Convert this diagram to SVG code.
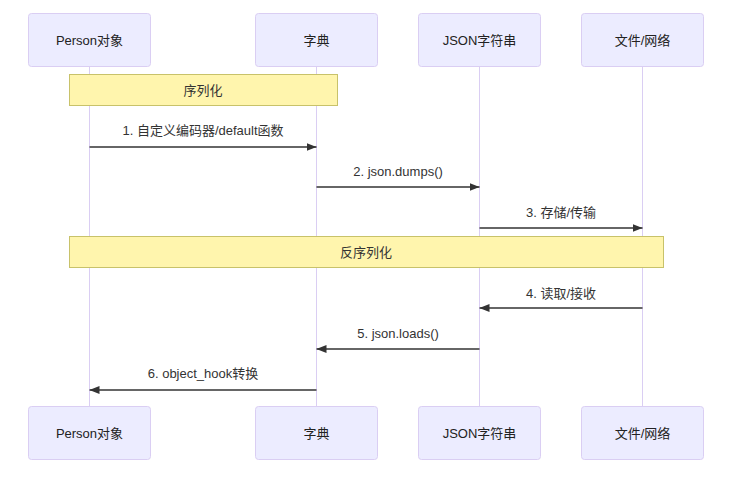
<svg xmlns="http://www.w3.org/2000/svg" width="737" height="486" viewBox="0 0 737 486">
<defs>
<style>
.actor rect{fill:#ECECFF;stroke:#DACEF3;stroke-width:1}
.actor text{font-family:"Liberation Sans","Noto Sans CJK SC",sans-serif;font-size:13px;fill:#222;text-anchor:middle;dominant-baseline:central}
.life{stroke:#DACEF3;stroke-width:1}
.note rect{fill:#FFF5AD;stroke:#C8C26A;stroke-width:1}
.note text{font-family:"Liberation Sans","Noto Sans CJK SC",sans-serif;font-size:13px;fill:#333;text-anchor:middle;dominant-baseline:central}
.msg line{stroke:#333;stroke-width:1.3;marker-end:url(#arr)}
.msg text{font-family:"Liberation Sans","Noto Sans CJK SC",sans-serif;font-size:13px;fill:#333;text-anchor:middle;dominant-baseline:central}
</style>
<marker id="arr" viewBox="0 0 10 8" refX="10" refY="4" markerWidth="10" markerHeight="8" markerUnits="userSpaceOnUse" orient="auto">
<path d="M0,0 L10,4 L0,8 Z" fill="#333"/>
</marker>
</defs>
<rect width="737" height="486" fill="#fff"/>
<g id="lifelines">
<line class="life" x1="89.5" y1="66" x2="89.5" y2="406"/>
<line class="life" x1="316.5" y1="66" x2="316.5" y2="406"/>
<line class="life" x1="479.5" y1="66" x2="479.5" y2="406"/>
<line class="life" x1="642.5" y1="66" x2="642.5" y2="406"/>
</g>
<g id="actor-person" class="actor">
<rect x="28.5" y="13.5" width="122" height="53" rx="3"/>
<text x="89.5" y="40">Person对象</text>
<rect x="28.5" y="406.5" width="122" height="53" rx="3"/>
<text x="89.5" y="433">Person对象</text>
</g>
<g id="actor-dict" class="actor">
<rect x="255.5" y="13.5" width="122" height="53" rx="3"/>
<text x="316.5" y="40">字典</text>
<rect x="255.5" y="406.5" width="122" height="53" rx="3"/>
<text x="316.5" y="433">字典</text>
</g>
<g id="actor-json" class="actor">
<rect x="418.5" y="13.5" width="122" height="53" rx="3"/>
<text x="479.5" y="40">JSON字符串</text>
<rect x="418.5" y="406.5" width="122" height="53" rx="3"/>
<text x="479.5" y="433">JSON字符串</text>
</g>
<g id="actor-file" class="actor">
<rect x="581.5" y="13.5" width="122" height="53" rx="3"/>
<text x="642.5" y="40">文件/网络</text>
<rect x="581.5" y="406.5" width="122" height="53" rx="3"/>
<text x="642.5" y="433">文件/网络</text>
</g>
<g id="note-serialize" class="note">
<rect x="69.5" y="74.5" width="268" height="31"/>
<text x="203" y="90">序列化</text>
</g>
<g id="note-deserialize" class="note">
<rect x="69.5" y="236.5" width="594" height="31"/>
<text x="366" y="252">反序列化</text>
</g>
<g id="connectors" class="msg">
<line x1="89.5" y1="147" x2="316.5" y2="147"/>
<text x="203" y="130">1. 自定义编码器/default函数</text>
<line x1="316.5" y1="187" x2="479.5" y2="187"/>
<text x="398" y="171">2. json.dumps()</text>
<line x1="479.5" y1="228" x2="642.5" y2="228"/>
<text x="561" y="212">3. 存储/传输</text>
<line x1="642.5" y1="308" x2="479.5" y2="308"/>
<text x="561" y="293">4. 读取/接收</text>
<line x1="479.5" y1="349" x2="316.5" y2="349"/>
<text x="398" y="333">5. json.loads()</text>
<line x1="316.5" y1="390" x2="89.5" y2="390"/>
<text x="203" y="373">6. object_hook转换</text>
</g>
</svg>
